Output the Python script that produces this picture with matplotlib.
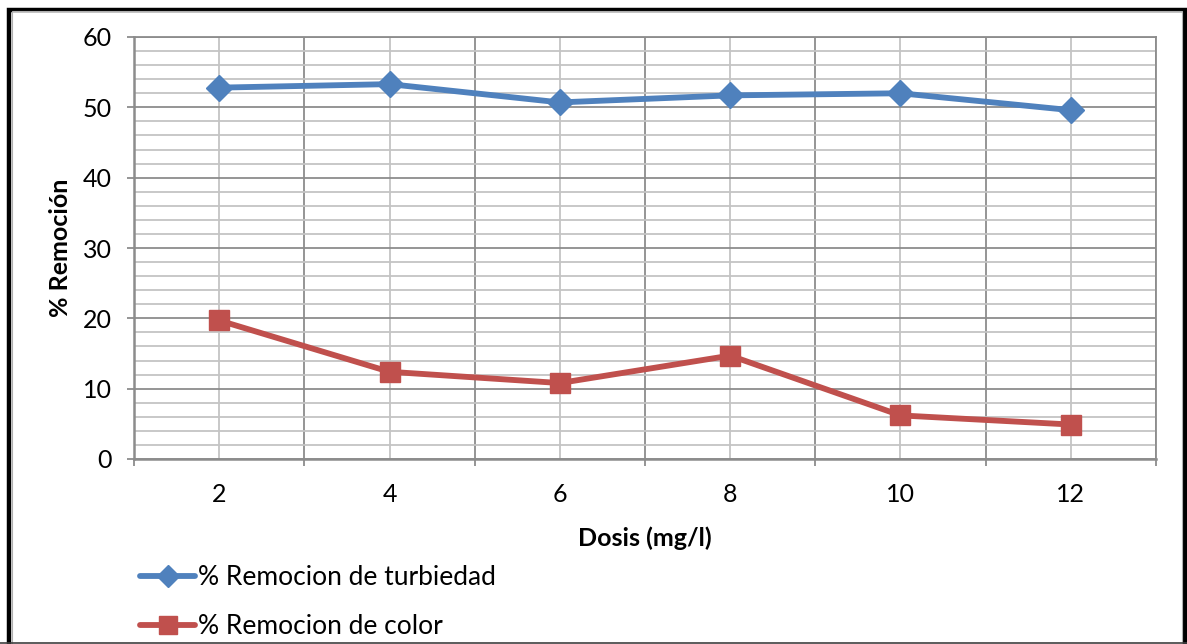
import numpy as np
import matplotlib.pyplot as plt
from matplotlib.ticker import MultipleLocator, FixedLocator
from matplotlib.lines import Line2D

plt.rcParams['font.family'] = ['Lato', 'DejaVu Sans']

# Dosis del coagulante y porcentajes de remocion
dosis = ["2", "4", "6", "8", "10", "12"]
rem_turbiedad = [52.8, 53.3, 50.7, 51.7, 52.0, 49.6]
rem_color = [19.7, 12.4, 10.8, 14.7, 6.2, 4.9]

azul = "#4F81BD"
rojo = "#C0504D"

fig = plt.figure(figsize=(11.87, 6.44), dpi=100)
ax = fig.add_axes([134 / 1187, 1 - 459 / 644, (1156 - 134) / 1187, (459 - 37) / 644])

x = np.arange(len(dosis))
ax.plot(x, rem_turbiedad, color=azul, lw=4.2, marker="D", ms=13,
        solid_capstyle="round", zorder=5, label="% Remocion de turbiedad")
ax.plot(x, rem_color, color=rojo, lw=4.2, marker="s", ms=14,
        solid_capstyle="round", zorder=5, label="% Remocion de color")

ax.set_xlim(-0.5, len(dosis) - 0.5)
ax.set_ylim(0, 60)

# rejilla: lineas mayores en los limites de categoria y cada 10, menores cada 2
ax.xaxis.set_major_locator(FixedLocator(np.arange(-0.5, len(dosis), 1.0)))
ax.xaxis.set_minor_locator(FixedLocator(x))
ax.yaxis.set_major_locator(MultipleLocator(10))
ax.yaxis.set_minor_locator(MultipleLocator(2))
ax.set_xticklabels([])
ax.set_xticklabels(dosis, minor=True)

ax.grid(which="major", color="#8c8c8c", lw=1.3)
ax.grid(which="minor", color="#c4c4c4", lw=1.3)
ax.set_axisbelow(True)

ax.tick_params(axis="x", which="major", length=5, width=1.3, color="#8c8c8c")
ax.tick_params(axis="x", which="minor", length=0, labelsize=18, pad=17)
ax.tick_params(axis="y", which="major", length=5, width=1.3, color="#8c8c8c",
               labelsize=18, pad=11)
ax.tick_params(axis="y", which="minor", length=0)

for s in ["top", "right"]:
    ax.spines[s].set_color("#8c8c8c")
    ax.spines[s].set_linewidth(1.3)
for s in ["left", "bottom"]:
    ax.spines[s].set_color("#8c8c8c")
    ax.spines[s].set_linewidth(1.8)

ax.set_xlabel("Dosis (mg/l)", fontsize=18, fontweight="bold", labelpad=15)
ax.set_ylabel("% Remoción", fontsize=18, fontweight="bold", labelpad=8)

handles = [
    Line2D([], [], color=azul, lw=4.2, marker="D", ms=11, solid_capstyle="round"),
    Line2D([], [], color=rojo, lw=4.2, marker="s", ms=13, solid_capstyle="round"),
]
fig.legend(handles, ["% Remocion de turbiedad", "% Remocion de color"],
           loc="upper left", bbox_to_anchor=(140 / 1187, 1 - 565 / 644),
           frameon=False, fontsize=19, handlelength=2.1, handletextpad=0.1,
           labelspacing=0.92, borderaxespad=0, borderpad=0)

# marco del grafico
fig.add_artist(plt.Rectangle((9.5 / 1187, -0.05), (1184.5 - 9.5) / 1187,
                             1.05 - 9.5 / 644, transform=fig.transFigure,
                             fill=False, ec="black", lw=3.2))
fig.add_artist(plt.Rectangle((12 / 1187, -0.05), (1181.5 - 12) / 1187,
                             1.05 - 11 / 644, transform=fig.transFigure,
                             fill=False, ec="#b0b0b0", lw=0.8))
fig.add_artist(Line2D([0, 1], [0.6 / 644, 0.6 / 644], transform=fig.transFigure,
                      color="#404040", lw=1.2))

fig.savefig("out.png", dpi=100)
